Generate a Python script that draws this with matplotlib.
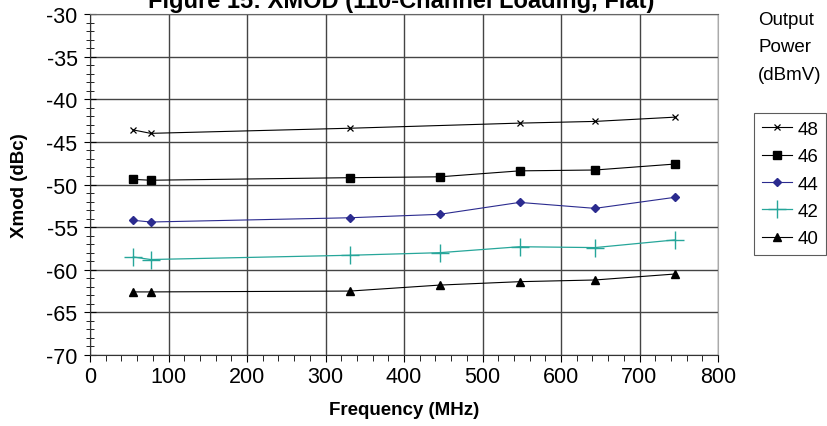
import numpy as np
import matplotlib
matplotlib.use("Agg")
import matplotlib.pyplot as plt
from matplotlib.ticker import MultipleLocator

plt.rcParams['font.family'] = ['Liberation Sans', 'DejaVu Sans']
plt.rcParams['axes.unicode_minus'] = False

# channel frequencies (MHz)
freq = [55.25, 77.25, 331.25, 445.25, 547.25, 643.25, 745.25]
freq_48 = [55.25, 77.25, 331.25, 547.25, 643.25, 745.25]

# Xmod (dBc) per output power level
xmod_48 = [-43.6, -44.0, -43.4, -42.8, -42.6, -42.1]
xmod_46 = [-49.4, -49.5, -49.2, -49.1, -48.4, -48.3, -47.6]
xmod_44 = [-54.2, -54.4, -53.9, -53.5, -52.1, -52.8, -51.5]
xmod_42 = [-58.5, -58.8, -58.3, -58.0, -57.3, -57.4, -56.5]
xmod_40 = [-62.6, -62.6, -62.5, -61.8, -61.4, -61.2, -60.5]

fig = plt.figure(figsize=(8.27, 4.27), dpi=100)
ax = fig.add_axes([90/827, 71/427, 628/827, 341/427])

ax.plot(freq_48, xmod_48, color='black', lw=0.8, marker='x', ms=5, mew=0.9, label='48')
ax.plot(freq, xmod_46, color='black', lw=0.8, marker='s', ms=6, label='46')
ax.plot(freq, xmod_44, color='#2b2b8f', lw=0.8, marker='D', ms=4.5, label='44')
ax.plot(freq, xmod_42, color='#26a69a', lw=0.9, marker='+', ms=13, mew=1.0, label='42')
ax.plot(freq, xmod_40, color='black', lw=0.8, marker='^', ms=6, label='40')

ax.set_xlim(0, 800)
ax.set_ylim(-70, -30)
ax.xaxis.set_major_locator(MultipleLocator(100))
ax.xaxis.set_minor_locator(MultipleLocator(20))
ax.yaxis.set_major_locator(MultipleLocator(5))
ax.yaxis.set_minor_locator(MultipleLocator(1))
ax.grid(True, which='major', color='#444444', lw=1.0)

ax.tick_params(axis='x', which='both', direction='out', labelsize=15.5, pad=3)
ax.tick_params(axis='x', which='major', length=5)
ax.tick_params(axis='x', which='minor', length=4)
ax.tick_params(axis='y', which='major', direction='inout', length=8, labelsize=15.5, pad=5)
ax.tick_params(axis='y', which='minor', direction='inout', length=6)

ax.spines['top'].set_color('#666666')
ax.spines['right'].set_color('#aaaaaa')
ax.spines['left'].set_color('#333333')
ax.spines['bottom'].set_color('#333333')

ax.set_xlabel('Frequency (MHz)', fontsize=13.5, fontweight='bold')
ax.xaxis.set_label_coords(0.5, -(402 - 356) / 341)
ax.set_ylabel('Xmod (dBc)', fontsize=13.5, fontweight='bold')
ax.yaxis.set_label_coords(-(90 - 28) / 628, 0.5)

fig.text(401/827, 1 - 8/427, 'Figure 15: XMOD (110-Channel Loading, Flat)', ha='center',
         va='baseline', fontsize=17, fontweight='bold')

fig.text(758/827, 1 - 12/427, 'Output\nPower\n(dBmV)', ha='left', va='top',
         fontsize=13.5, linespacing=1.8)

leg = ax.legend(loc='upper left', bbox_to_anchor=(754/827, 1 - 114/427),
                bbox_transform=fig.transFigure, frameon=True, fancybox=False,
                edgecolor='#333333', fontsize=13.5, handlelength=1.65,
                handletextpad=0.27, borderpad=0.4, labelspacing=0.55,
                borderaxespad=0)
leg.get_frame().set_linewidth(0.8)

fig.savefig('out.png', dpi=100)
